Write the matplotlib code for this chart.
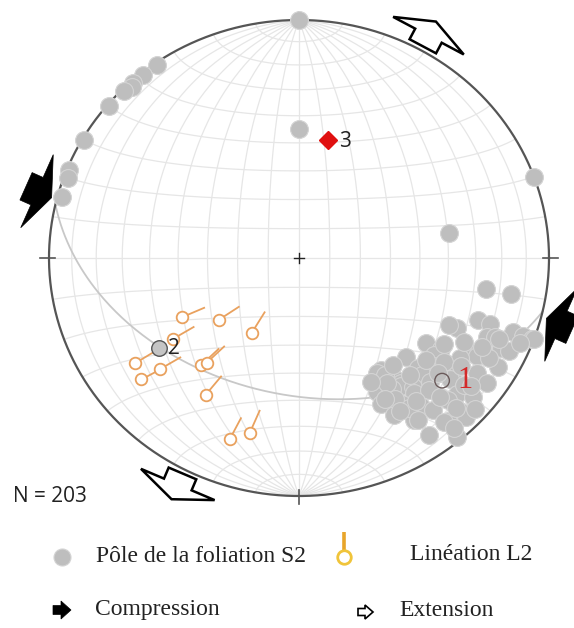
import numpy as np
import matplotlib
matplotlib.use("Agg")
import matplotlib.pyplot as plt
from matplotlib.patches import Polygon

# ---------------- data ----------------
# poles to foliation S2 (trend, plunge in degrees)
pole_trend = [325, 321, 318, 317, 315, 310, 300, 292, 290, 285,
              0, 70, 0, 80,
              100, 100, 110, 110, 115, 115, 110, 110, 110, 114, 115, 115,
              125, 124, 120, 120, 134, 127, 123, 120, 145, 147, 143, 134,
              130, 128, 124, 125, 135, 145, 142, 149, 143, 140, 135, 130,
              151, 146, 141, 137, 132, 130, 152, 146, 142, 140, 135, 135,
              150, 146, 139, 135, 145, 140, 140, 145, 110, 147, 136, 129,
              127, 118, 146, 113, 135,
              140, 138, 130, 122, 125, 128, 145, 150, 139, 132, 119, 113,
              151, 148, 131, 142, 117, 112]
pole_plunge = [1, 1, 1, 2, 1, 1, 1, 1, 2, 2,
               0, 0, 45, 39,
               25, 15, 25, 20, 31, 34, 10, 5, 1, 19, 12, 8,
               38, 32, 21, 19, 40, 33, 24, 9, 42, 42, 37, 34,
               30, 23, 15, 9, 31, 40, 34, 37, 33, 30, 27, 22,
               36, 34, 28, 25, 16, 10, 31, 27, 22, 18, 17, 10,
               25, 19, 10, 6, 10, 2, 11, 24, 0, 30, 20, 16,
               28, 26, 37, 16, 12,
               41, 34, 34, 32, 22, 14, 18, 32, 6, 6, 14, 14,
               40, 25, 27, 25, 19, 5]

# lineations L2 (trend, plunge) and direction of the symbol tail (azimuth on page)
lin_trend = [242, 231, 211, 236, 236, 230, 231, 221, 220, 213, 200, 195]
lin_plunge = [46, 56, 60, 39, 22, 28, 20, 40, 42, 32, 20, 25]
lin_tail_az = [67, 57, 32, 60, 59, 60, 62, 47, 47, 40, 28, 24]

# special points: 1 = mean pole, 2 = mean lineation, 3 = girdle axis
mean1 = (132, 24)
mean2 = (236, 33)
axis3 = (13, 48)

# tectonic arrows: position trend on the net and pointing azimuth
compression_pos = [285, 105]
compression_dir = [114, 294]
extension_pos = [29, 207]
extension_dir = [28, 203]

n_label = "N = 203"
legend_labels = ["Pôle de la foliation S2", "Linéation L2", "Compression", "Extension"]

# ---------------- layout (pixels) ----------------
W, H = 574, 628
CX, CY, RX, RY = 299, 258, 250, 238

fig = plt.figure(figsize=(W / 100, H / 100), dpi=100)
ax = fig.add_axes([0, 0, 1, 1])
ax.set_xlim(-CX / RX, (W - CX) / RX)
ax.set_ylim(-(H - CY) / RY, CY / RY)
ax.axis("off")


def pix(px, py):
    return (px - CX) / RX, (CY - py) / RY


def proj_vec(n, e, d):
    n, e, d = np.asarray(n, float), np.asarray(e, float), np.asarray(d, float)
    s = np.sqrt(1 + d)
    return e / s, n / s


def proj(trend, plunge):
    t = np.radians(np.asarray(trend, float))
    p = np.radians(np.asarray(plunge, float))
    r = np.sqrt(1 - np.sin(p))
    return r * np.sin(t), r * np.cos(t)


GRID = "#e6e6e6"
# meridians (great circles striking N-S)
th = np.linspace(0, np.pi, 200)
for dip in range(10, 90, 10):
    dr = np.radians(dip)
    for sgn in (1, -1):
        n = np.cos(th)
        e = np.sin(th) * np.cos(dr) * sgn
        d = np.sin(th) * np.sin(dr)
        x, y = proj_vec(n, e, d)
        ax.plot(x, y, color=GRID, lw=0.9, zorder=1)
x, y = proj_vec(np.cos(th), 0 * th, np.sin(th))
ax.plot(x, y, color=GRID, lw=0.9, zorder=1)
# small circles about N-S axis
for a in range(10, 180, 10):
    ar = np.radians(a)
    n = np.cos(ar) * np.ones_like(th)
    e = np.sin(ar) * np.cos(th)
    d = np.sin(ar) * np.sin(th)
    x, y = proj_vec(n, e, d)
    ax.plot(x, y, color=GRID, lw=0.9, zorder=1)

# girdle great circle (pole = axis 3)
tp, pp = np.radians(axis3[0]), np.radians(axis3[1])
sv = np.array([-np.sin(tp), np.cos(tp), 0.0])
dv = np.array([-np.sin(pp) * np.cos(tp), -np.sin(pp) * np.sin(tp), np.cos(pp)])
v = np.outer(np.cos(th), sv) + np.outer(np.sin(th), dv)
gx, gy = proj_vec(v[:, 0], v[:, 1], v[:, 2])
ax.plot(gx, gy, color="#c8c8c8", lw=1.3, zorder=2)

# primitive circle
phi = np.linspace(0, 2 * np.pi, 400)
ax.plot(np.cos(phi), np.sin(phi), color="#555555", lw=1.6, zorder=3)
# N E S W ticks and centre cross
for t in (0, 90, 180, 270):
    tr = np.radians(t)
    ax.plot([0.975 * np.sin(tr), 1.035 * np.sin(tr)],
            [0.975 * np.cos(tr), 1.035 * np.cos(tr)], color="#555555", lw=1.2, zorder=3)
ax.plot([-0.02, 0.02], [0, 0], color="#222222", lw=1.0, zorder=3)
ax.plot([0, 0], [-0.021, 0.021], color="#222222", lw=1.0, zorder=3)

# poles
POLE_FC, POLE_EC = "#bebebe", "#d4d4d4"
px_, py_ = proj(pole_trend, pole_plunge)
ax.scatter(px_, py_, s=165, facecolor=POLE_FC, edgecolor=POLE_EC, linewidths=0.8, zorder=4)

# lineations
LIN = "#e9a15e"
lx, ly = proj(lin_trend, lin_plunge)
for x0, y0, az in zip(lx, ly, lin_tail_az):
    P = ax.transData.transform((x0, y0))
    u = np.array([np.sin(np.radians(az)), np.cos(np.radians(az))])
    a = ax.transData.inverted().transform(P + 5.5 * u)
    b = ax.transData.inverted().transform(P + 24 * u)
    ax.plot([a[0], b[0]], [a[1], b[1]], color=LIN, lw=1.3, zorder=5)
ax.scatter(lx, ly, s=70, facecolor="white", edgecolor=LIN, linewidths=1.3, zorder=5)

# special points
m1 = proj(*mean1)
ax.scatter([m1[0]], [m1[1]], s=110, facecolor="none", edgecolor="#6a5a5a", linewidths=1.0, zorder=6)
ax.text(m1[0] + 0.06, m1[1] + 0.0, "1", color="#d42a2a", fontsize=22,
        family="Liberation Serif", ha="left", va="center", zorder=7)
m2 = proj(*mean2)
ax.scatter([m2[0]], [m2[1]], s=125, facecolor="#c4c4c4", edgecolor="#555555", linewidths=1.0, zorder=6)
ax.text(m2[0] + 0.035, m2[1] - 0.005, "2", color="#222222", fontsize=15,
        family="Open Sans", ha="left", va="center", zorder=7)
m3 = proj(*axis3)
ax.plot([m3[0]], [m3[1]], marker="D", ms=9, color="#e01010", zorder=6, linestyle="none")
ax.text(m3[0] + 0.045, m3[1] - 0.005, "3", color="#222222", fontsize=15,
        family="Open Sans", ha="left", va="center", zorder=7)


# flattened block arrows
def block_arrow(anchor_xy, az, fill, shape, lw=1.8, z=8):
    P = ax.transData.transform(anchor_xy)
    u = np.array([np.sin(np.radians(az)), np.cos(np.radians(az))])
    w = np.array([u[1], -u[0]])
    pts = [ax.transData.inverted().transform(P + a * u + b * w) for a, b in shape]
    ax.add_patch(Polygon(pts, closed=True, facecolor=fill, edgecolor="black",
                         linewidth=lw, joinstyle="miter", zorder=z))


big = [(-12, -15), (0, -15), (0, -40), (16, 0), (0, 40), (0, 15), (-12, 15)]
for pos, dr in zip(compression_pos, compression_dir):
    t = np.radians(pos)
    block_arrow((1.085 * np.sin(t), 1.085 * np.cos(t)), dr, "black", big, lw=0.5)
for pos, dr in zip(extension_pos, extension_dir):
    t = np.radians(pos)
    block_arrow((1.068 * np.sin(t), 1.068 * np.cos(t)), dr, "white", big, lw=1.8)

# N text
ax.text(*pix(13, 497), n_label, fontsize=15, family="Open Sans", ha="left", va="center", color="#222222")

# legend
SER = "Liberation Serif"
ax.scatter(*pix(62, 557), s=150, facecolor=POLE_FC, edgecolor=POLE_EC, linewidths=0.8)
ax.text(*pix(96, 557), legend_labels[0], fontsize=17, family=SER, ha="left", va="center", color="#222222")
ax.plot(*zip(pix(344, 532), pix(344, 550)), color="#e8a52a", lw=2.6, solid_capstyle="butt")
ax.scatter(*pix(344, 557), s=95, facecolor="white", edgecolor="#f0c43a", linewidths=2.0, zorder=3)
ax.text(*pix(410, 555), legend_labels[1], fontsize=17, family=SER, ha="left", va="center", color="#222222")

small = [(-8, -4.5), (0, -4.5), (0, -9), (10, 0), (0, 9), (0, 4.5), (-8, 4.5)]
block_arrow(pix(61, 610), 90, "black", small, lw=0.5)
ax.text(*pix(95, 610), legend_labels[2], fontsize=17, family=SER, ha="left", va="center", color="#222222")
small2 = [(-7, -3.5), (0, -3.5), (0, -7), (8, 0), (0, 7), (0, 3.5), (-7, 3.5)]
block_arrow(pix(365, 612), 90, "white", small2, lw=1.2)
ax.text(*pix(399, 610), legend_labels[3], fontsize=17, family=SER, ha="left", va="center", color="#222222")

fig.savefig("out.png", dpi=100, facecolor="white")
